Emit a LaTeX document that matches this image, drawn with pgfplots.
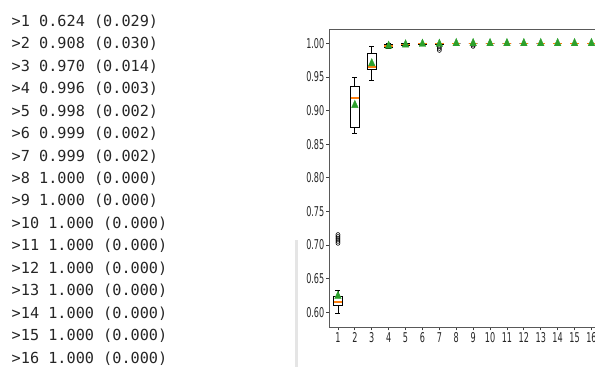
\documentclass[border=0pt]{standalone}
\usepackage{pgfplots}
\pgfplotsset{compat=1.18}
\usepgfplotslibrary{statistics}
\usepackage{fontspec}
\newfontfamily\monofont{DejaVu Sans Mono}
\newfontfamily\tickfont[FakeStretch=0.6]{DejaVu Sans}
\definecolor{orangeM}{HTML}{FF7F0E}
\definecolor{greenM}{HTML}{2CA02C}
\definecolor{txt}{HTML}{262626}
\pgfplotsset{
  boxplot/draw direction=y,
  boxplot/every box/.style={draw=black, line width=0.8pt},
  boxplot/every whisker/.style={draw=black, line width=0.8pt},
  boxplot/every median/.style={draw=orangeM, color=orangeM, line width=1.5pt},
  boxplot/box extend=0.5,
  boxplot/whisker extend=0.3,
  myflier/.style={black, line width=0.6pt, mark=o, mark size=2.4pt, mark options={xscale=0.85, draw=black, fill=none}},
}
\begin{document}
\begin{tikzpicture}
\path[use as bounding box] (0pt,0pt) rectangle (595pt,367pt);
\clip (0pt,0pt) rectangle (595pt,367pt);
\fill[black!10] (294.5pt,0pt) rectangle (297.5pt,127pt);
\node[anchor=base west, inner sep=0pt, text=txt, font=\fontsize{15.2}{16}\monofont] at (11.5pt, 340.6pt) {>1 0.624 (0.029)};
\node[anchor=base west, inner sep=0pt, text=txt, font=\fontsize{15.2}{16}\monofont] at (11.5pt, 318.15pt) {>2 0.908 (0.030)};
\node[anchor=base west, inner sep=0pt, text=txt, font=\fontsize{15.2}{16}\monofont] at (11.5pt, 295.7pt) {>3 0.970 (0.014)};
\node[anchor=base west, inner sep=0pt, text=txt, font=\fontsize{15.2}{16}\monofont] at (11.5pt, 273.25pt) {>4 0.996 (0.003)};
\node[anchor=base west, inner sep=0pt, text=txt, font=\fontsize{15.2}{16}\monofont] at (11.5pt, 250.8pt) {>5 0.998 (0.002)};
\node[anchor=base west, inner sep=0pt, text=txt, font=\fontsize{15.2}{16}\monofont] at (11.5pt, 228.35pt) {>6 0.999 (0.002)};
\node[anchor=base west, inner sep=0pt, text=txt, font=\fontsize{15.2}{16}\monofont] at (11.5pt, 205.9pt) {>7 0.999 (0.002)};
\node[anchor=base west, inner sep=0pt, text=txt, font=\fontsize{15.2}{16}\monofont] at (11.5pt, 183.45pt) {>8 1.000 (0.000)};
\node[anchor=base west, inner sep=0pt, text=txt, font=\fontsize{15.2}{16}\monofont] at (11.5pt, 161.0pt) {>9 1.000 (0.000)};
\node[anchor=base west, inner sep=0pt, text=txt, font=\fontsize{15.2}{16}\monofont] at (11.5pt, 138.55pt) {>10 1.000 (0.000)};
\node[anchor=base west, inner sep=0pt, text=txt, font=\fontsize{15.2}{16}\monofont] at (11.5pt, 116.1pt) {>11 1.000 (0.000)};
\node[anchor=base west, inner sep=0pt, text=txt, font=\fontsize{15.2}{16}\monofont] at (11.5pt, 93.65pt) {>12 1.000 (0.000)};
\node[anchor=base west, inner sep=0pt, text=txt, font=\fontsize{15.2}{16}\monofont] at (11.5pt, 71.2pt) {>13 1.000 (0.000)};
\node[anchor=base west, inner sep=0pt, text=txt, font=\fontsize{15.2}{16}\monofont] at (11.5pt, 48.75pt) {>14 1.000 (0.000)};
\node[anchor=base west, inner sep=0pt, text=txt, font=\fontsize{15.2}{16}\monofont] at (11.5pt, 26.3pt) {>15 1.000 (0.000)};
\node[anchor=base west, inner sep=0pt, text=txt, font=\fontsize{15.2}{16}\monofont] at (11.5pt, 3.85pt) {>16 1.000 (0.000)};
\begin{axis}[
  at={(329.5pt,40pt)}, anchor=south west,
  scale only axis, width=270.4pt, height=298pt,
  xmin=0.5, xmax=16.5, ymin=0.578, ymax=1.0213,
  xtick={1,2,3,4,5,6,7,8,9,10,11,12,13,14,15,16},
  ytick={0.60,0.65,0.70,0.75,0.80,0.85,0.90,0.95,1.00},
  tick align=outside, tick pos=left, major tick length=3.5pt,
  axis line style={draw=black!65, line width=0.8pt},
  every tick/.style={black!75, line width=0.8pt},
  /pgf/number format/assume math mode=true,
  ticklabel style={font=\fontsize{13.5}{14}\tickfont, text=txt},
  yticklabel style={inner sep=1.5pt, /pgf/number format/.cd, fixed, fixed zerofill, precision=2},
  xticklabel style={inner sep=1.5pt},
]
\addplot[myflier, boxplot prepared={lower whisker=0.598, lower quartile=0.610, median=0.615, upper quartile=0.624, upper whisker=0.633, draw position=1}] table[row sep=\\, y index=0] {0.703\\0.706\\0.709\\0.712\\0.715\\};
\addplot[myflier, boxplot prepared={lower whisker=0.866, lower quartile=0.8745, median=0.919, upper quartile=0.9355, upper whisker=0.9494, draw position=2}] coordinates {};
\addplot[myflier, boxplot prepared={lower whisker=0.9455, lower quartile=0.961, median=0.965, upper quartile=0.985, upper whisker=0.995, draw position=3}] coordinates {};
\addplot[myflier, boxplot prepared={lower whisker=0.992, lower quartile=0.994, median=0.996, upper quartile=0.999, upper whisker=1.0, draw position=4}] coordinates {};
\addplot[myflier, boxplot prepared={lower whisker=0.995, lower quartile=0.997, median=0.998, upper quartile=1.0, upper whisker=1.0, draw position=5}] coordinates {};
\addplot[myflier, boxplot prepared={lower whisker=0.997, lower quartile=0.998, median=1.0, upper quartile=1.0, upper whisker=1.0, draw position=6}] coordinates {};
\addplot[myflier, boxplot prepared={lower whisker=0.998, lower quartile=0.999, median=1.0, upper quartile=1.0, upper whisker=1.0, draw position=7}] table[row sep=\\, y index=0] {0.990\\0.993\\0.996\\};
\addplot[myflier, boxplot prepared={lower whisker=1.0, lower quartile=1.0, median=1.0, upper quartile=1.0, upper whisker=1.0, draw position=8}] coordinates {};
\addplot[myflier, boxplot prepared={lower whisker=1.0, lower quartile=1.0, median=1.0, upper quartile=1.0, upper whisker=1.0, draw position=9}] table[row sep=\\, y index=0] {0.996\\0.998\\};
\addplot[myflier, boxplot prepared={lower whisker=1.0, lower quartile=1.0, median=1.0, upper quartile=1.0, upper whisker=1.0, draw position=10}] coordinates {};
\addplot[myflier, boxplot prepared={lower whisker=1.0, lower quartile=1.0, median=1.0, upper quartile=1.0, upper whisker=1.0, draw position=11}] coordinates {};
\addplot[myflier, boxplot prepared={lower whisker=1.0, lower quartile=1.0, median=1.0, upper quartile=1.0, upper whisker=1.0, draw position=12}] coordinates {};
\addplot[myflier, boxplot prepared={lower whisker=1.0, lower quartile=1.0, median=1.0, upper quartile=1.0, upper whisker=1.0, draw position=13}] coordinates {};
\addplot[myflier, boxplot prepared={lower whisker=1.0, lower quartile=1.0, median=1.0, upper quartile=1.0, upper whisker=1.0, draw position=14}] coordinates {};
\addplot[myflier, boxplot prepared={lower whisker=1.0, lower quartile=1.0, median=1.0, upper quartile=1.0, upper whisker=1.0, draw position=15}] coordinates {};
\addplot[myflier, boxplot prepared={lower whisker=1.0, lower quartile=1.0, median=1.0, upper quartile=1.0, upper whisker=1.0, draw position=16}] coordinates {};
\addplot[only marks, mark=triangle*, mark size=3.8pt, mark options={yscale=1.3, draw=greenM, fill=greenM}] coordinates {
(1,0.624) (2,0.908) (3,0.970) (4,0.996) (5,0.998) (6,0.999) (7,0.999) (8,1.000)
(9,1.000) (10,1.000) (11,1.000) (12,1.000) (13,1.000) (14,1.000) (15,1.000) (16,1.000)};
\end{axis}
\end{tikzpicture}
\end{document}
